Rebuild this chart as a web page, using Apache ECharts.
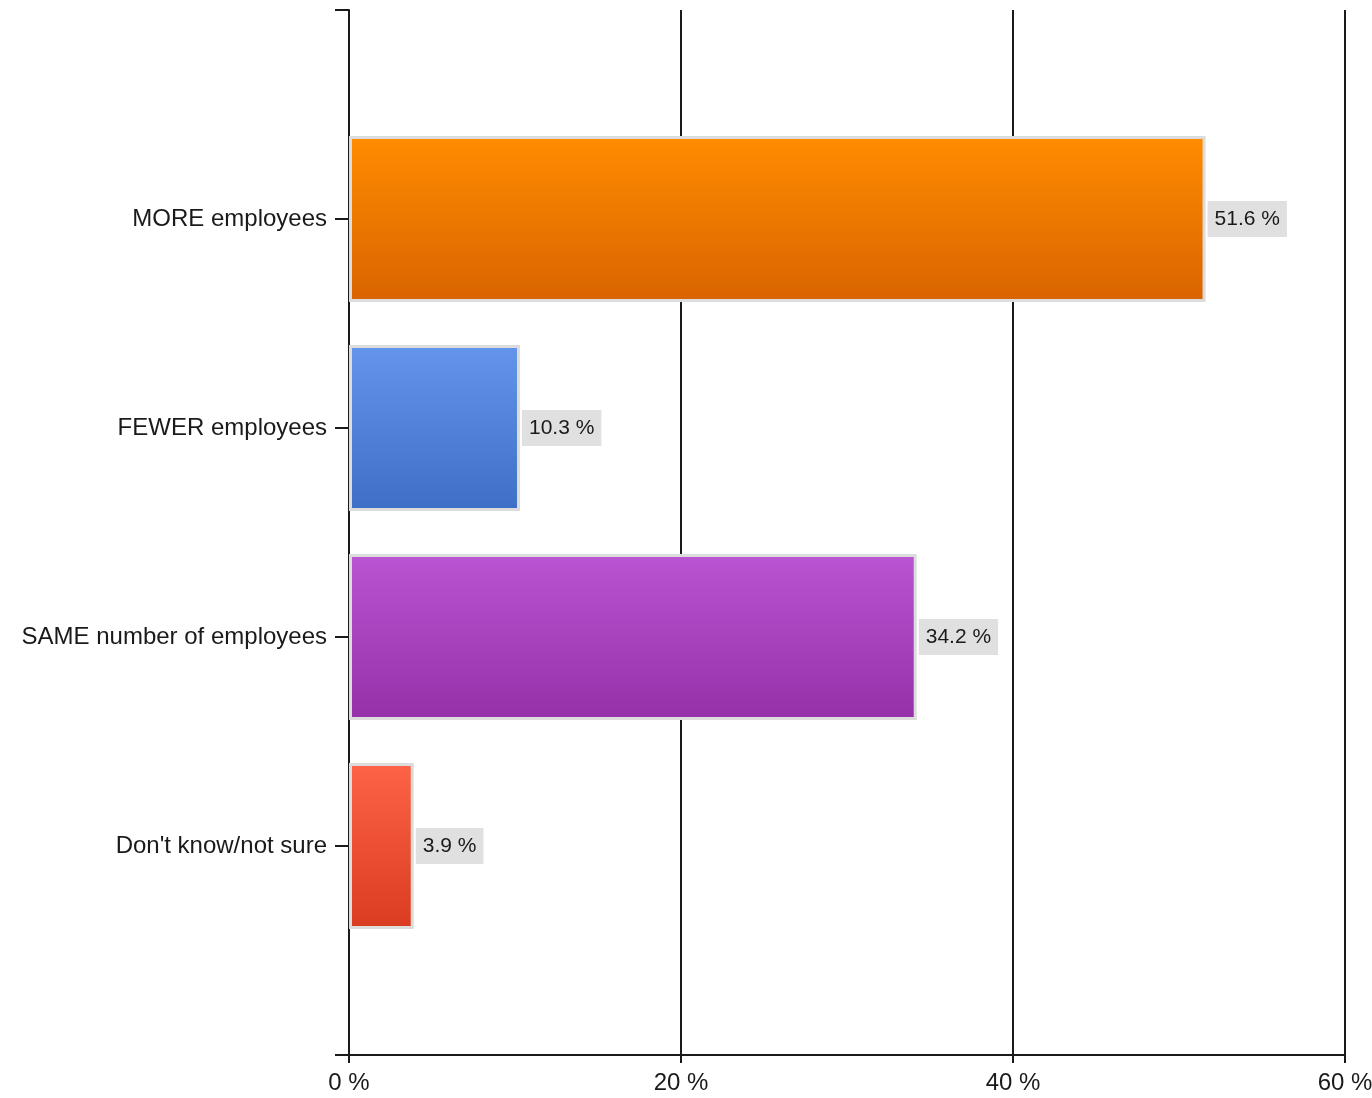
<!DOCTYPE html>
<html>
<head>
<meta charset="utf-8">
<script src="https://cdn.jsdelivr.net/npm/echarts@6/dist/echarts.min.js"></script>
<style>
  html, body { margin: 0; padding: 0; background: #fff; }
  #chart { width: 1372px; height: 1098px; }
</style>
</head>
<body>
<div id="chart"></div>
<script>
// Survey answers; empty slots at both ends give the axis its outer ticks
const categories = ['', 'MORE employees', 'FEWER employees', 'SAME number of employees', "Don't know/not sure", ''];
const shares = [null, 51.6, 10.3, 34.2, 3.9, null];
const topColors = [null, '#FF8C00', '#6495ED', '#BA55D3', '#FF6347'];
const bottomColors = [null, '#D96400', '#3D6FC6', '#9530A8', '#D93C21'];
const xTicks = { min: 0, max: 60, interval: 20 };

const fontFamily = 'Liberation Sans, Arial, sans-serif';

const barData = shares.map((v, i) => {
  if (v === null) return '-';
  return {
    value: v,
    itemStyle: {
      color: new echarts.graphic.LinearGradient(0, 0, 0, 1, [
        { offset: 0, color: topColors[i] },
        { offset: 1, color: bottomColors[i] }
      ])
    }
  };
});

const chart = echarts.init(document.getElementById('chart'), null, { renderer: 'canvas' });
chart.setOption({
  animation: false,
  backgroundColor: '#ffffff',
  grid: { left: 349, right: 27, top: 10, bottom: 43, containLabel: false, outerBoundsMode: 'none' },
  xAxis: {
    type: 'value',
    min: xTicks.min,
    max: xTicks.max,
    interval: xTicks.interval,
    axisLine: { show: true, onZero: false, lineStyle: { color: '#1a1a1a', width: 2 } },
    axisTick: { show: true, length: 8, lineStyle: { color: '#1a1a1a', width: 2 } },
    axisLabel: {
      formatter: '{value} %',
      color: '#1a1a1a',
      fontSize: 24,
      fontFamily: fontFamily,
      margin: 16
    },
    splitLine: { show: true, lineStyle: { color: '#1a1a1a', width: 2 } }
  },
  yAxis: {
    type: 'category',
    data: categories,
    inverse: true,
    boundaryGap: false,
    axisLine: { show: true, lineStyle: { color: '#1a1a1a', width: 2 } },
    axisTick: { show: true, length: 14, interval: 0, alignWithLabel: true, lineStyle: { color: '#1a1a1a', width: 2 } },
    axisLabel: {
      interval: 0,
      color: '#1a1a1a',
      fontSize: 24,
      fontFamily: fontFamily,
      margin: 22
    },
    splitLine: { show: false }
  },
  series: [{
    type: 'bar',
    data: barData,
    barWidth: 166,
    itemStyle: { borderColor: '#dcdcdc', borderWidth: 3 },
    label: {
      show: true,
      position: 'right',
      distance: 2,
      formatter: p => p.value + ' %',
      color: '#1a1a1a',
      fontSize: 21,
      fontFamily: fontFamily,
      backgroundColor: '#e0e0e0',
      padding: [8, 7, 7, 7]
    }
  }]
});
</script>
</body>
</html>
